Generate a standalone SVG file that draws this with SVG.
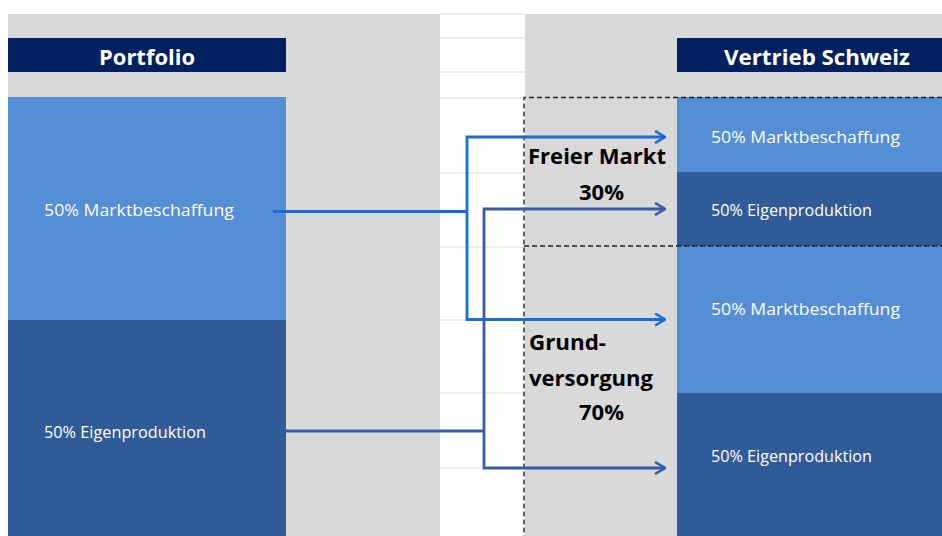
<svg xmlns="http://www.w3.org/2000/svg" width="942" height="536" viewBox="0 0 942 536">
  <style>
    .bg { fill: #D9D9D9; }
    .grid { stroke: #D9D9D9; stroke-width: 1.2; }
    .hdr { fill: #002060; }
    .light { fill: #558ED5; }
    .dark { fill: #2F5B99; }
    .hdrtxt { font-family: "Open Sans", "Liberation Sans", sans-serif; font-weight: bold; font-size: 22px; fill: #FFFFFF; }
    .blktxt { font-family: "Open Sans", "Liberation Sans", sans-serif; font-size: 17px; fill: #FFFFFF; }
    .lbl { font-family: "Open Sans", "Liberation Sans", sans-serif; font-weight: bold; font-size: 22px; fill: #000000; }
    .dash { stroke: #222222; stroke-width: 1.4; stroke-dasharray: 5 3; fill: none; }
    .c1 { stroke: #1A6DD6; stroke-width: 2.8; fill: none; }
    .c2 { stroke: #3A5BA8; stroke-width: 2.8; fill: none; }
  </style>
  <defs>
    <marker id="arr1" viewBox="0 0 12 14" refX="11" refY="7" markerWidth="12" markerHeight="14" markerUnits="userSpaceOnUse" orient="auto">
      <path d="M1,1 L11,7 L1,13" fill="none" stroke="#1A6DD6" stroke-width="2.6"/>
    </marker>
    <marker id="arr2" viewBox="0 0 12 14" refX="11" refY="7" markerWidth="12" markerHeight="14" markerUnits="userSpaceOnUse" orient="auto">
      <path d="M1,1 L11,7 L1,13" fill="none" stroke="#3A5BA8" stroke-width="2.6"/>
    </marker>
  </defs>

  <rect x="0" y="0" width="942" height="536" fill="#FFFFFF"/>

  <g id="background">
    <rect class="bg" x="8" y="14" width="432" height="522"/>
    <rect class="bg" x="525" y="14" width="417" height="522"/>
    <line class="grid" x1="440" y1="14" x2="525" y2="14"/>
    <line class="grid" x1="440" y1="38" x2="525" y2="38"/>
    <line class="grid" x1="440" y1="72" x2="525" y2="72"/>
    <line class="grid" x1="440" y1="98" x2="525" y2="98"/>
    <line class="grid" x1="440" y1="173" x2="525" y2="173"/>
    <line class="grid" x1="440" y1="247" x2="525" y2="247"/>
    <line class="grid" x1="440" y1="320" x2="525" y2="320"/>
    <line class="grid" x1="440" y1="393" x2="525" y2="393"/>
    <line class="grid" x1="440" y1="468" x2="525" y2="468"/>
  </g>

  <g id="portfolio-header">
    <rect class="hdr" x="8" y="38" width="278" height="34"/>
    <text class="hdrtxt" x="147" y="65" text-anchor="middle" textLength="96" lengthAdjust="spacingAndGlyphs">Portfolio</text>
  </g>
  <g id="vertrieb-header">
    <rect class="hdr" x="677" y="38" width="265" height="34"/>
    <text class="hdrtxt" x="817" y="65" text-anchor="middle" textLength="186" lengthAdjust="spacingAndGlyphs">Vertrieb Schweiz</text>
  </g>

  <g id="portfolio-markt">
    <rect class="light" x="8" y="97" width="278" height="223"/>
    <text class="blktxt" x="44" y="216" textLength="190" lengthAdjust="spacingAndGlyphs">50% Marktbeschaffung</text>
  </g>
  <g id="portfolio-eigen">
    <rect class="dark" x="8" y="320" width="278" height="216"/>
    <text class="blktxt" x="44" y="438" textLength="162" lengthAdjust="spacingAndGlyphs">50% Eigenproduktion</text>
  </g>

  <g id="frei-markt">
    <rect class="light" x="677" y="97" width="265" height="75"/>
    <text class="blktxt" x="711" y="143" textLength="189" lengthAdjust="spacingAndGlyphs">50% Marktbeschaffung</text>
  </g>
  <g id="frei-eigen">
    <rect class="dark" x="677" y="172" width="265" height="74"/>
    <text class="blktxt" x="711" y="216" textLength="161" lengthAdjust="spacingAndGlyphs">50% Eigenproduktion</text>
  </g>
  <g id="grund-markt">
    <rect class="light" x="677" y="246" width="265" height="147"/>
    <text class="blktxt" x="711" y="315" textLength="189" lengthAdjust="spacingAndGlyphs">50% Marktbeschaffung</text>
  </g>
  <g id="grund-eigen">
    <rect class="dark" x="677" y="393" width="265" height="143"/>
    <text class="blktxt" x="711" y="462" textLength="161" lengthAdjust="spacingAndGlyphs">50% Eigenproduktion</text>
  </g>

  <g id="segments">
    <path class="dash" d="M942,97.5 H524 V536"/>
    <path class="dash" d="M524,246 H942"/>
  </g>

  <g id="label-freier-markt">
    <text class="lbl" x="528" y="164" textLength="138" lengthAdjust="spacingAndGlyphs">Freier Markt</text>
    <text class="lbl" x="579" y="200" textLength="45" lengthAdjust="spacingAndGlyphs">30%</text>
  </g>
  <g id="label-grundversorgung">
    <text class="lbl" x="529" y="350" textLength="77" lengthAdjust="spacingAndGlyphs">Grund-</text>
    <text class="lbl" x="529" y="386" textLength="124" lengthAdjust="spacingAndGlyphs">versorgung</text>
    <text class="lbl" x="579" y="420" textLength="45" lengthAdjust="spacingAndGlyphs">70%</text>
  </g>

  <g id="connectors">
    <path class="c1" d="M273,211.5 H467"/>
    <path class="c1" d="M467,211.5 V137 H665" marker-end="url(#arr1)"/>
    <path class="c1" d="M467,211.5 V319.5 H665" marker-end="url(#arr1)"/>
    <path class="c2" d="M286,431 H484"/>
    <path class="c2" d="M484,431 V209 H665" marker-end="url(#arr2)"/>
    <path class="c2" d="M484,431 V468 H665" marker-end="url(#arr2)"/>
  </g>
</svg>
